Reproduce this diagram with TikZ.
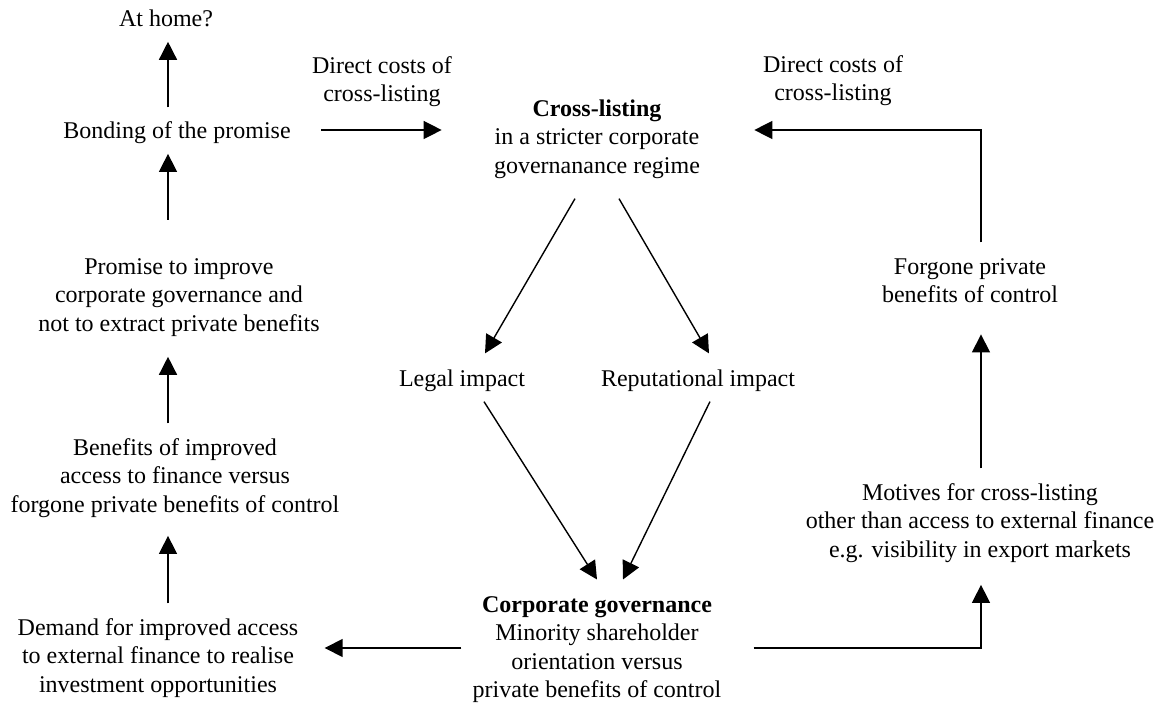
\documentclass[tikz,border=0pt]{standalone}
\usepackage{fontspec}
\setmainfont{Liberation Serif}
\usetikzlibrary{arrows.meta}
\begin{document}
\begin{tikzpicture}[x=0.5pt,y=-0.5pt,>={Triangle[length=9pt,width=9pt]},
    lbl/.style={anchor=north,align=center,inner sep=0pt,font=\fontsize{12pt}{14.25pt}\selectfont},
    link/.style={->,line width=0.7pt}]
    \useasboundingbox (0,0) rectangle (1169,706);
    % columns and rows of the arrows
    \coordinate (colL) at (168,0);
    \coordinate (colR) at (981,0);
    \coordinate (rowT) at (0,130);
    \coordinate (rowB) at (0,648);
    % left column
    \node[lbl] (home) at (166,9) {At home?};
    \node[lbl] (bond) at (177,121) {Bonding of the promise};
    \node[lbl] (promise) at (179,258) {Promise to improve\\corporate governance and\\not to extract private benefits};
    \node[lbl] (benefit) at (175,438) {Benefits of improved\\access to finance versus\\forgone private benefits of control};
    \node[lbl] (demand) at (158,618) {Demand for improved access\\to external finance to realise\\investment opportunities};
    % middle
    \node[lbl] (costL) at (382,56) {Direct costs of\\cross-listing};
    \node[lbl] (costR) at (833,55) {Direct costs of\\cross-listing};
    \node[lbl] (cross) at (597,99) {\textbf{Cross-listing}\\in a stricter corporate\\governanance regime};
    \node[lbl] (legal) at (462,369) {Legal impact};
    \node[lbl] (repu) at (698,369) {Reputational impact};
    \node[lbl] (corp) at (597,596) {\textbf{Corporate governance}\\Minority shareholder\\orientation versus\\private benefits of control};
    % right column
    \node[lbl] (forgone) at (970,258) {Forgone private\\benefits of control};
    \node[lbl] (motives) at (980,483) {Motives for cross-listing\\other than access to external finance\\e.g. visibility in export markets};
    % arrows
    \draw[link,shorten <=6.8pt,shorten >=7.5pt] (bond.north -| colL) -- (home.south -| colL);
    \draw[link,shorten <=19pt,shorten >=5pt] (promise.north -| colL) -- (bond.south -| colL);
    \draw[link,shorten <=7.3pt,shorten >=10pt] (benefit.north -| colL) -- (promise.south -| colL);
    \draw[link,shorten <=7.3pt,shorten >=9pt] (demand.north -| colL) -- (benefit.south -| colL);
    \draw[link,shorten <=15pt,shorten >=26pt] (bond.east |- rowT) -- (cross.west |- rowT);
    \draw[link,shorten <=7.8pt,shorten >=27pt] (forgone.north -| colR) |- (cross.east |- rowT);
    \draw[link,shorten <=7.3pt,shorten >=15.5pt] (motives.north -| colR) -- (forgone.south -| colR);
    \draw[link,shorten <=16pt,shorten >=11pt] (corp.east |- rowB) -| (motives.south -| colR);
    \draw[link,shorten <=5.5pt,shorten >=13pt] (corp.west |- rowB) -- (demand.east |- rowB);
    \draw[link] ([xshift=-11pt,yshift=-10pt]cross.south) -- ([xshift=11.5pt,yshift=7.8pt]legal.north);
    \draw[link] ([xshift=11pt,yshift=-10pt]cross.south) -- ([xshift=5.5pt,yshift=7.8pt]repu.north);
    \draw[link] ([xshift=11pt,yshift=-5pt]legal.south) -- ([yshift=8.25pt]corp.north);
    \draw[link] ([xshift=6pt,yshift=-5pt]repu.south) -- ([xshift=13pt,yshift=8.25pt]corp.north);
\end{tikzpicture}
\end{document}
